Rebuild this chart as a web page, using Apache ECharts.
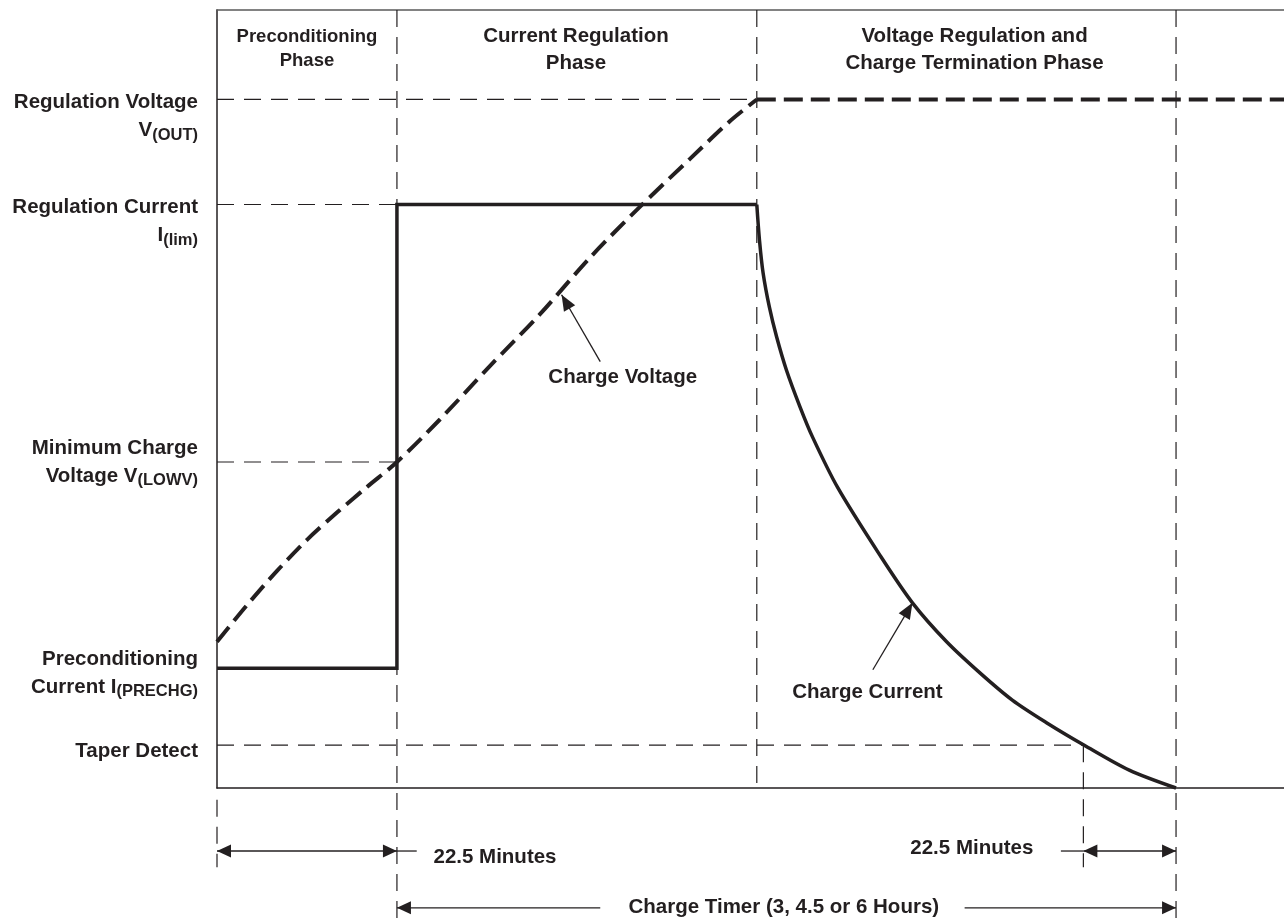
<!DOCTYPE html>
<html>
<head>
<meta charset="utf-8">
<title>Charge profile</title>
<script src="https://cdn.jsdelivr.net/npm/echarts@6/dist/echarts.min.js"></script>
<style>
  html, body { margin: 0; padding: 0; background: #fff; }
  #chart { width: 1284px; height: 923px; }
</style>
</head>
<body>
<div id="chart"></div>
<script>
// schematic units: x = time, y = level (0 = axis line, 100 = top border)
var xMax = 118.6;
var yTop = 100;
var yPageBottom = -17.4;          // bottom edge of the picture

// phase boundaries: end of preconditioning, end of current regulation, end of timer
var phaseX = [20, 60, 106.6];
var taperX = 96.3;

// reference levels on the left axis
var levelY = [88.5, 75, 41.9, 15.4, 5.5];
var levelLabels = [
  '{gap| }\n{b|Regulation Voltage}\n{b|V}{s|(OUT)}',
  '{gap| }\n{b|Regulation Current}\n{b|I}{s|(lim)}',
  '{b|Minimum Charge}\n{b|Voltage V}{s|(LOWV)}',
  '{gap2| }\n{b|Preconditioning}\n{b|Current I}{s|(PRECHG)}',
  '{gap3| }\n{b|Taper Detect}'
];

// charge voltage (thick dashed)
var voltX = [0, 3.33, 6.67, 10, 13.33, 16.67, 20, 24.8, 30.3, 35.9, 41.4, 47, 52.6, 57, 60, xMax];
var voltY = [18.8, 23.5, 27.9, 31.9, 35.4, 38.7, 41.9, 47.4, 54.2, 60.9, 68.1, 74.7, 80.9, 85.7, 88.5, 88.5];

// charge current (thick solid)
var currX = [0, 20, 20, 60, 60.3, 60.7, 61.4, 62.2, 63.3, 64.8, 66.2, 69.0, 73.7, 77.3, 81.1, 84.8, 88.4, 92.2, 96.4, 101.4, 106.6];
var currY = [15.4, 15.4, 75, 75, 70.4, 66.2, 61.8, 58.0, 53.7, 49.0, 45.1, 38.6, 29.9, 23.8, 18.8, 14.8, 11.3, 8.4, 5.5, 2.3, 0];

// dimension rows under the axis
var dimY = -8.1;
var timerY = -15.4;
var dimTop = -1.5;
var dimBottom = -10.2;

// arrows: x1, y1, x2, y2, head at start, head at end, head length
var arrows = [
  [0, dimY, phaseX[0], dimY, 1, 1, 14],
  [phaseX[0], dimY, 22.2, dimY, 0, 0, 14],
  [93.8, dimY, taperX, dimY, 0, 0, 14],
  [taperX, dimY, phaseX[2], dimY, 1, 1, 14],
  [42.6, timerY, phaseX[0], timerY, 0, 1, 14],
  [83.1, timerY, phaseX[2], timerY, 0, 1, 14],
  [42.6, 54.8, 38.3, 63.4, 0, 1, 16],
  [72.9, 15.2, 77.3, 23.8, 0, 1, 16]
];

// text notes
var noteText = ['Preconditioning\nPhase', 'Current Regulation\nPhase', 'Voltage Regulation and\nCharge Termination Phase',
  'Charge Voltage', 'Charge Current', '22.5 Minutes', '22.5 Minutes', 'Charge Timer (3, 4.5 or 6 Hours)'];
var noteX = [10, 39.9, 84.2, 45.1, 72.3, 30.9, 83.9, 63];
var noteY = [95, 94.9, 94.9, 52.8, 12.3, -8.9, -7.7, -15.4];

var ink = '#231f20';
var font = '"Liberation Sans", Arial, Helvetica, sans-serif';

function zip(xs, ys) {
  return xs.map(function(x, i) { return [x, ys[i]]; });
}

// thin dashed guide lines
var guides = [
  [[0, levelY[0]], [phaseX[1], levelY[0]]],
  [[0, levelY[1]], [phaseX[0], levelY[1]]],
  [[0, levelY[2]], [phaseX[0], levelY[2]]],
  [[0, levelY[4]], [taperX, levelY[4]]],
  [[phaseX[0], yTop], [phaseX[0], yPageBottom]],
  [[phaseX[1], yTop], [phaseX[1], 0]],
  [[phaseX[2], yTop], [phaseX[2], yPageBottom]],
  [[0, dimTop], [0, dimBottom]],
  [[taperX, levelY[4]], [taperX, dimBottom]]
];

var series = guides.map(function(seg) {
  return {
    type: 'line', data: seg, showSymbol: false, clip: false, silent: true,
    lineStyle: { color: ink, width: 1.2, type: [17, 10] }
  };
});

var volt = zip(voltX, voltY);
var curr = zip(currX, currY);
var vSplit = voltX.indexOf(phaseX[1]);
var voltStyle = { color: ink, width: 4, type: [19, 8] };
var currStyle = { color: ink, width: 3.5, join: 'miter' };

// rising voltage (smoothed) + flat regulation part
series.push({ type: 'line', data: volt.slice(0, vSplit + 1), smooth: 0.3, showSymbol: false, clip: false, lineStyle: voltStyle });
series.push({ type: 'line', data: volt.slice(vSplit), showSymbol: false, clip: false, lineStyle: voltStyle });
// current step + taper decay
series.push({ type: 'line', data: curr.slice(0, 4), showSymbol: false, clip: false, lineStyle: currStyle });
series.push({ type: 'line', data: curr.slice(3), smooth: 0.3, showSymbol: false, clip: false, lineStyle: currStyle });

function head(tip, from, len) {
  var dx = tip[0] - from[0], dy = tip[1] - from[1];
  var d = Math.sqrt(dx * dx + dy * dy) || 1;
  dx /= d; dy /= d;
  var bx = tip[0] - dx * len, by = tip[1] - dy * len, w = 6.5;
  return {
    type: 'polygon',
    shape: { points: [tip, [bx - dy * w, by + dx * w], [bx + dy * w, by - dx * w]] },
    style: { fill: ink }
  };
}

series.push({
  type: 'custom', silent: true, clip: false,
  data: arrows,
  renderItem: function(params, api) {
    var p1 = api.coord([api.value(0), api.value(1)]);
    var p2 = api.coord([api.value(2), api.value(3)]);
    var len = api.value(6);
    var kids = [{
      type: 'line',
      shape: { x1: p1[0], y1: p1[1], x2: p2[0], y2: p2[1] },
      style: { stroke: ink, lineWidth: 1.3 }
    }];
    if (api.value(4)) kids.push(head(p1, p2, len));
    if (api.value(5)) kids.push(head(p2, p1, len));
    return { type: 'group', children: kids };
  }
});

series.push({
  type: 'scatter', symbolSize: 0, clip: false, silent: true,
  itemStyle: { opacity: 1 },
  data: noteText.map(function(t, i) {
    var small = i === 0;
    return {
      value: [noteX[i], noteY[i]],
      label: {
        show: true, position: 'inside', formatter: t, opacity: 1,
        color: ink, fontFamily: font, fontWeight: 'bold',
        fontSize: small ? 18.5 : 20.5, lineHeight: small ? 24 : 27, align: 'center'
      }
    };
  })
});

var chart = echarts.init(document.getElementById('chart'), null, { renderer: 'canvas' });
chart.setOption({
  animation: false,
  backgroundColor: '#fff',
  grid: { left: 217, right: 0, top: 10, bottom: 135 },
  xAxis: [{
    type: 'value', min: 0, max: xMax, position: 'bottom',
    axisLine: { show: true, onZero: false, lineStyle: { color: ink, width: 1.5 } },
    axisTick: { show: false }, axisLabel: { show: false }, splitLine: { show: false }
  }, {
    type: 'value', min: 0, max: xMax, position: 'top',
    axisLine: { show: true, onZero: false, lineStyle: { color: '#5a5a5a', width: 1.6 } },
    axisTick: { show: false }, axisLabel: { show: false }, splitLine: { show: false }
  }],
  yAxis: {
    type: 'value', min: 0, max: yTop,
    axisLine: { show: true, onZero: false, lineStyle: { color: ink, width: 1.5 } },
    axisTick: { show: false },
    splitLine: { show: false },
    axisLabel: {
      customValues: levelY,
      margin: 19,
      lineHeight: 28,
      formatter: function(v) {
        var i = levelY.indexOf(v);
        return i < 0 ? '' : levelLabels[i];
      },
      rich: {
        b: { fontSize: 20.5, fontWeight: 'bold', fontFamily: font, color: ink, lineHeight: 28 },
        s: { fontSize: 16.5, fontWeight: 'bold', fontFamily: font, color: ink, padding: [9, 0, 0, 0] },
        gap: { fontSize: 2, lineHeight: 34 },
        gap2: { fontSize: 2, lineHeight: 10 },
        gap3: { fontSize: 2, lineHeight: 12 }
      }
    }
  },
  series: series
});
</script>
</body>
</html>
